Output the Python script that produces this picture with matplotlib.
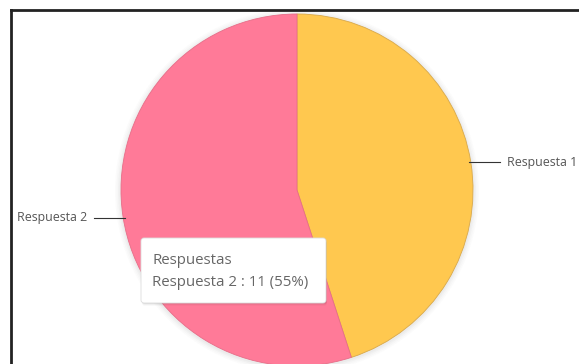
import numpy as np
import matplotlib.pyplot as plt
from matplotlib.patches import Circle, FancyBboxPatch

# data
labels = ["Respuesta 1", "Respuesta 2"]
values = [9, 11]
colors = ["#FFC84F", "#FF7A98"]
tooltip_title = "Respuestas"
tooltip_idx = 1

W, H = 579, 364
fig = plt.figure(figsize=(W / 100, H / 100), dpi=100)
ax = fig.add_axes([0, 0, 1, 1])

cx, cy, r = 297, H - 190, 176

# soft shadow round the pie
for i, a in enumerate([0.035, 0.03, 0.025, 0.02]):
    ax.add_patch(Circle((cx, cy - 1), r + 1.5 + i * 1.5, color="#555555", alpha=a, lw=0, zorder=1))

wedges, _ = ax.pie(values, colors=colors, startangle=90, counterclock=False,
                   center=(cx, cy), radius=r, frame=True,
                   wedgeprops=dict(linewidth=0.6, edgecolor="#d9a94a", zorder=2))
wedges[1].set_edgecolor("#e86d88")
ax.set_xlim(0, W)
ax.set_ylim(0, H)
ax.set_aspect("equal")
ax.axis("off")

# labels with leader lines
for w, lab in zip(wedges, labels):
    ang = np.deg2rad((w.theta1 + w.theta2) / 2)
    ex, ey = cx + r * np.cos(ang), cy + r * np.sin(ang)
    side = 1 if np.cos(ang) > 0 else -1
    ax.plot([ex - side * 2, ex + side * 29], [ey, ey], color="#333333", lw=0.8, zorder=3)
    ax.text(ex + side * 36, ey, lab, ha="left" if side > 0 else "right", va="center",
            fontsize=8.9, color="#555555", family="Open Sans", zorder=3)

# tooltip
total = sum(values)
tx0, ty0, tw, th = 141, H - 303, 185, 65
for i, a in enumerate([0.06, 0.04, 0.025]):
    ax.add_patch(FancyBboxPatch((tx0 + 1, ty0 - 1 - i), tw, th, boxstyle="round,pad=0,rounding_size=3",
                                fc="#000000", ec="none", alpha=a, zorder=4))
ax.add_patch(FancyBboxPatch((tx0, ty0), tw, th, boxstyle="round,pad=0,rounding_size=3",
                            fc="white", ec="#dddddd", lw=0.6, zorder=5))
ax.text(tx0 + 11, H - 261, tooltip_title, fontsize=10.8, color="#666666", family="Open Sans",
        va="center", ha="left", zorder=6)
ax.text(tx0 + 11, H - 283,
        f"{labels[tooltip_idx]} : {values[tooltip_idx]} ({values[tooltip_idx] / total:.0%})",
        fontsize=10.8, color="#666666", family="Open Sans", va="center", ha="left", zorder=6)

# screenshot frame (left and top edges)
ax.plot([11, 11], [0, H - 10], color="#222222", lw=2, solid_capstyle="projecting", zorder=7)
ax.plot([11, W], [H - 10, H - 10], color="#222222", lw=2, solid_capstyle="projecting", zorder=7)

fig.savefig("out.png", dpi=100)
